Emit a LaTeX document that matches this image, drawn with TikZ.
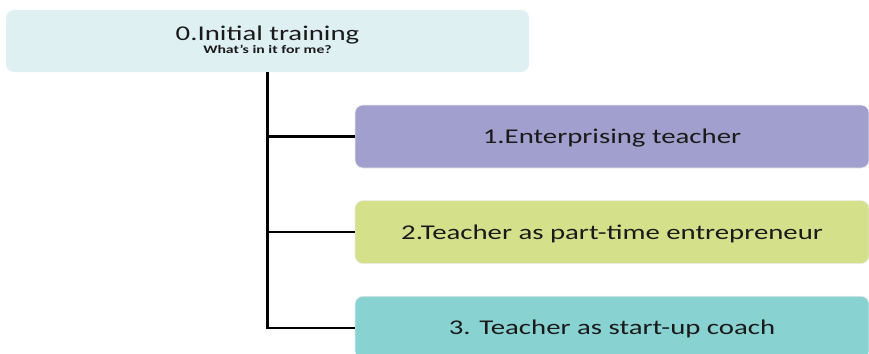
\documentclass[tikz,border=0pt]{standalone}
\usepackage{fontspec}
\setmainfont{Carlito}[FakeStretch=1.37]
\usepackage{xcolor}
\usetikzlibrary{positioning}
\definecolor{initfill}{HTML}{DFF0F3}
\definecolor{phaseA}{HTML}{A09FCD}
\definecolor{phaseB}{HTML}{D4E08A}
\definecolor{phaseC}{HTML}{88D2D1}
\definecolor{labeltext}{HTML}{1A1A1A}
\tikzstyle{topbox} = [rectangle, rounded corners=8pt, minimum width=523pt, minimum height=62pt, align=center, fill=initfill, text=labeltext, inner sep=0pt]
\tikzstyle{phase} = [rectangle, rounded corners=8pt, minimum width=514pt, minimum height=63pt, align=center, draw=white!85!gray, line width=0.6pt, text=labeltext, text depth=0pt, font=\fontsize{21}{24}\selectfont]
\tikzstyle{branch} = [line width=2.4pt, black]

\begin{document}
\begin{tikzpicture}[x=1pt, y=-1pt, node distance=32pt]
    \useasboundingbox (0,0) rectangle (869,353);
    \node (init) [topbox] at (267.5,41) {\fontsize{21}{24}\selectfont 0.Initial training\\[1pt]\fontsize{11.5}{13}\selectfont\bfseries What’s in it for me?\rule[-3pt]{0pt}{0pt}};
    \node (enter) [phase, fill=phaseA] at (612,136.5) {1.Enterprising teacher};
    \node (parttime) [phase, fill=phaseB, below=of enter] {2.Teacher as part-time entrepreneur};
    \node (coach) [phase, fill=phaseC, below=of parttime] {3. Teacher as start-up coach};
    \draw [branch] (init.south) |- (coach.west);
    \draw [branch] (init.south |- enter.west) -- (enter.west);
    \draw [branch] (init.south |- parttime.west) -- (parttime.west);
\end{tikzpicture}
\end{document}
